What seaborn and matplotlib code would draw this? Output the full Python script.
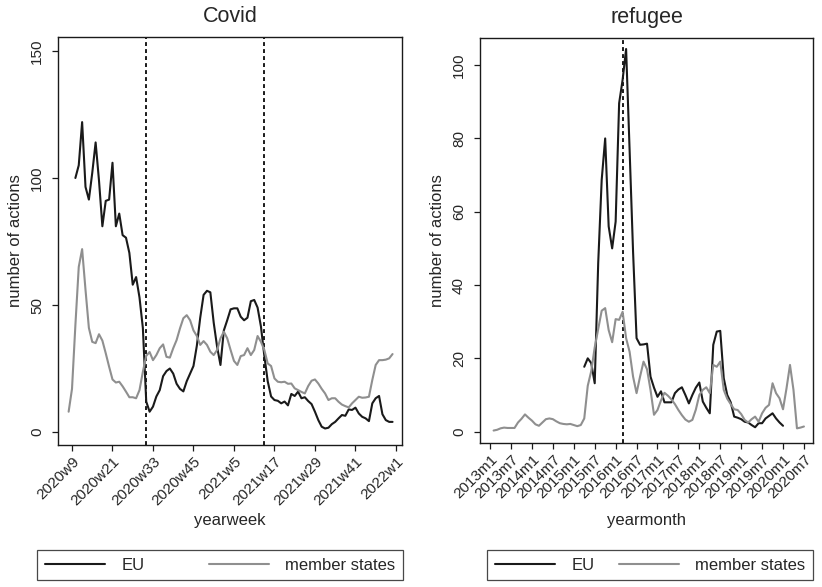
import matplotlib
matplotlib.use("Agg")
import matplotlib.pyplot as plt
from matplotlib.lines import Line2D
import pandas as pd
import seaborn as sns

# ---- Covid panel (weekly, Stata weeks: 52 per year) ----
covid_ms_start = "2020w8"
covid_ms = [8, 17, 42, 65, 72, 56, 41, 35.5, 35, 38.5, 36,
            31, 25.7, 20.7, 19.5, 19.8, 18, 15.9, 13.7, 13.7, 13.3,
            16.5, 23.7, 30, 31.5, 28.3, 30.3, 33, 34.5, 29.6, 29.3,
            33, 36.2, 40.8, 44.8, 46, 44, 40, 37.8, 34.3, 35.8,
            34.3, 31.6, 30.3, 32.3, 36.9, 39.5, 36.9, 32.3, 28, 26.4,
            29.9, 30.3, 33, 30.3, 32.3, 37.8, 35.5, 32.3, 27, 26,
            21.1, 19.8, 19.6, 19.8, 19, 19.1, 17.2, 16.5, 15.8, 15.2,
            18.1, 20.2, 20.7, 19.1, 17, 15.2, 12.6, 13.3, 13.3, 11.9,
            10.8, 10.2, 9.7, 11.3, 12.6, 13.9, 13.5, 13.6, 13.9, 20.5,
            26.4, 28.3, 28.3, 28.5, 29, 30.7]
covid_eu_start = "2020w10"
covid_eu = [100, 105, 122, 96.5, 91.5, 102, 114, 99, 81, 91,
            91.5, 106, 81, 86, 77.5, 76.5, 70.5, 58, 61, 53,
            41, 12, 8, 10, 14, 16.5, 22, 24, 25, 23,
            19, 17, 16, 20, 23, 26, 34, 45, 54, 55.6,
            55, 43, 33.6, 26.4, 40, 44, 48.3, 48.7, 48.7, 45.4,
            44, 45, 51.5, 52, 49, 41.5, 30, 20, 14, 12.6,
            12.3, 11.3, 12, 10.5, 15, 14.2, 15.9, 13.3, 13.7, 12.2,
            11, 8, 4.7, 2.1, 1.4, 1.7, 3.1, 4, 5.4, 6.7,
            6.4, 8.9, 8.7, 9.6, 7.3, 6, 5.4, 4.3, 11.3, 13.3,
            14.2, 7, 4.7, 4, 4]
covid_ticks = ["2020w9", "2020w21", "2020w33", "2020w45", "2021w5",
               "2021w17", "2021w29", "2021w41", "2022w1"]
covid_events = ["2020w31", "2021w14"]

# ---- Refugee panel (monthly) ----
refugee_ms_start = "2013m2"
refugee_ms = [0.3, 0.5, 0.9, 1.1, 1.0, 1.0, 1.0, 2.5, 3.5, 4.7,
              3.8, 3.0, 2.0, 1.6, 2.5, 3.4, 3.6, 3.4, 2.8, 2.3,
              2.1, 2.0, 2.1, 1.8, 1.5, 1.8, 3.6, 12.5, 16.5, 23,
              28, 33, 33.7, 27.7, 24.4, 30.7, 30.5, 32.7, 25.5, 21.8,
              15, 10.5, 15, 19.1, 17, 11.4, 4.6, 5.9, 8.5, 10.6,
              9.8, 8.8, 7.5, 5.9, 4.5, 3.3, 2.7, 3.2, 6, 10,
              11.4, 12.1, 10.5, 18.2, 17.7, 19.1, 11.4, 9, 7.5, 6.1,
              5.9, 4.8, 3.2, 2.5, 3.4, 4.1, 2.7, 5, 6.5, 7.3,
              13.2, 10.5, 9.1, 6.1, 11.8, 18.2, 11.4, 0.9, 1.1, 1.4]
refugee_eu_start = "2015m4"
refugee_eu = [17.7, 20, 18.7, 13.2,
              46, 68.7, 80, 56, 50, 57.3, 89.6, 96, 104.4, 77,
              49, 25.5, 23.7, 23.8, 24, 15, 12, 9.5, 11, 8,
              8, 8, 10.5, 11.5, 12.1, 10, 7.7, 10, 12, 13.4,
              8.2, 6.5, 5, 23.7, 27.3, 27.5, 14.6, 10, 8, 4.1,
              3.8, 3.4, 2.7, 2.5, 1.8, 1.2, 2.3, 2.3, 3.6, 4.3,
              5, 3.6, 2.5, 1.6]
refugee_ticks = [f"{y}m{m}" for y in range(2013, 2021) for m in (1, 7)]
refugee_events = ["2016m3"]


def week_index(label):
    year, week = label.split("w")
    return (int(year) - 2020) * 52 + int(week) - 9


def month_index(label):
    year, month = label.split("m")
    return (int(year) - 2013) * 12 + int(month) - 1


def series_frame(start, values, name, to_index):
    i0 = to_index(start)
    return pd.DataFrame({"t": range(i0, i0 + len(values)),
                         "actions": values, "series": name})


sns.set_style("ticks")
plt.rcParams["font.family"] = ["Liberation Sans", "DejaVu Sans"]

BLACK = "#1a1a1a"
GREY = "#8f8f8f"
palette = {"EU": BLACK, "member states": GREY}

fig = plt.figure(figsize=(8.22, 5.87), dpi=100)
ax1 = fig.add_axes([58 / 822, 142 / 587, 344 / 822, 408 / 587])
ax2 = fig.add_axes([480 / 822, 144 / 587, 333 / 822, 405 / 587])

panels = [
    (ax1, "Covid", "yearweek", week_index,
     [(covid_eu_start, covid_eu, "EU"), (covid_ms_start, covid_ms, "member states")],
     covid_ticks, covid_events, [0, 50, 100, 150], (-4.15, 97.8), (-5.1, 155.5)),
    (ax2, "refugee", "yearmonth", month_index,
     [(refugee_eu_start, refugee_eu, "EU"), (refugee_ms_start, refugee_ms, "member states")],
     refugee_ticks, refugee_events, [0, 20, 40, 60, 80, 100], (-2.9, 92.6), (-3.1, 107.4)),
]

for ax, title, xlabel, to_index, series, ticks, events, yticks, xlim, ylim in panels:
    df = pd.concat([series_frame(s, v, n, to_index) for s, v, n in series])
    sns.lineplot(data=df, x="t", y="actions", hue="series", palette=palette,
                 estimator=None, linewidth=1.5, legend=False, ax=ax)
    for ev in events:
        ax.axvline(to_index(ev), color=BLACK, linewidth=1.4,
                   linestyle=(0, (2, 1.6)), zorder=1)
    ax.set_xlim(*xlim)
    ax.set_ylim(*ylim)
    ax.set_xticks([to_index(t) for t in ticks])
    ax.set_xticklabels(ticks, rotation=45, ha="right", rotation_mode="anchor",
                       fontsize=11)
    ax.set_yticks(yticks)
    ax.set_yticklabels([str(v) for v in yticks], rotation=90, va="center",
                       fontsize=11)
    ax.tick_params(direction="out", length=4, width=0.9, color=BLACK)
    ax.tick_params(axis="x", pad=3)
    ax.tick_params(axis="y", pad=6)
    ax.set_title(title, fontsize=15.5, pad=11)
    ax.set_xlabel(xlabel, fontsize=12)
    ax.set_ylabel("number of actions", fontsize=12, labelpad=5)
    # both x titles sit on the same row (top at ~513 px from the top)
    bbox = ax.get_position()
    ax.xaxis.set_label_coords(0.5, ((1 - 513 / 587) - bbox.y0) / bbox.height)
    for sp in ax.spines.values():
        sp.set_visible(True)
        sp.set_color(BLACK)
        sp.set_linewidth(1.0)

handles = [Line2D([], [], color=BLACK, linewidth=1.5, label="EU"),
           Line2D([], [], color=GREY, linewidth=1.5, label="member states")]
for x0, w in [(37, 366), (487, 326)]:
    leg = fig.legend(handles=handles, loc="lower left", ncol=2, mode="expand",
                     bbox_to_anchor=(x0 / 822, 7 / 587, w / 822, 32 / 587),
                     borderaxespad=0, fontsize=12, frameon=True, fancybox=False,
                     handlelength=3.6, handletextpad=1.0, borderpad=0.45)
    leg.get_frame().set_edgecolor(BLACK)
    leg.get_frame().set_linewidth(0.9)

fig.savefig("out.png", dpi=100)
